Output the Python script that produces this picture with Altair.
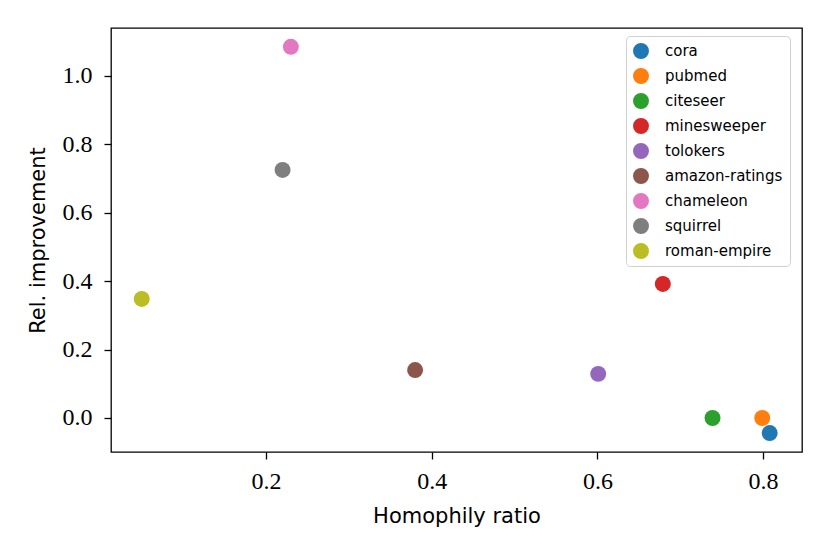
import altair as alt
import pandas as pd

datasets = ["cora", "pubmed", "citeseer", "minesweeper", "tolokers",
            "amazon-ratings", "chameleon", "squirrel", "roman-empire"]
homophily = [0.808, 0.799, 0.739, 0.679, 0.601, 0.380, 0.230, 0.220, 0.050]
improvement = [-0.044, 0.0, 0.0, 0.392, 0.129, 0.140, 1.085, 0.725, 0.348]
colors = ["#1f77b4", "#ff7f0e", "#2ca02c", "#d62728", "#9467bd",
          "#8c564b", "#e377c2", "#7f7f7f", "#bcbd22"]
x_ticks = [0.2, 0.4, 0.6, 0.8]
y_ticks = [0.0, 0.2, 0.4, 0.6, 0.8, 1.0]

df = pd.DataFrame({"dataset": datasets, "h": homophily, "imp": improvement})

serif = "Liberation Serif"
sans = "DejaVu Sans"

common_axis = dict(format=".1f", grid=False, domain=False,
                   tickColor="black", tickSize=7, tickWidth=1.3,
                   labelFont=serif, labelFontSize=24, labelColor="black",
                   titleFont=sans, titleFontSize=21, titleFontWeight="normal",
                   titleColor="black", titleBaseline="alphabetic")

chart = alt.Chart(df).mark_circle(size=255, opacity=1).encode(
    x=alt.X("h:Q", title="Homophily ratio",
            scale=alt.Scale(domain=[0.0129, 0.847], nice=False, zero=False),
            axis=alt.Axis(values=x_ticks, labelPadding=10, titleY=70,
                          **common_axis)),
    y=alt.Y("imp:Q", title="Rel. improvement",
            scale=alt.Scale(domain=[-0.0994, 1.140], nice=False, zero=False),
            axis=alt.Axis(values=y_ticks, labelPadding=12, titleX=-67,
                          **common_axis)),
    color=alt.Color("dataset:N", sort=datasets,
                    scale=alt.Scale(domain=datasets, range=colors),
                    legend=alt.Legend(title=None, orient="none", legendX=515, legendY=8,
                                      symbolType="circle", symbolSize=254,
                                      symbolStrokeWidth=0, symbolOpacity=1,
                                      labelFont=sans, labelFontSize=15,
                                      labelColor="black", rowPadding=9,
                                      padding=7, cornerRadius=4,
                                      strokeColor="#d0d0d0", fillColor="white",
                                      labelOffset=16)),
).properties(
    width=691, height=424,
    autosize=alt.AutoSizeParams(type="none"),
    padding={"left": 103, "top": 20, "right": 20, "bottom": 90},
).configure(background="white").configure_view(stroke="black", strokeWidth=1.3)

chart.save("out.html", embed_options={"renderer": "svg", "actions": False})
